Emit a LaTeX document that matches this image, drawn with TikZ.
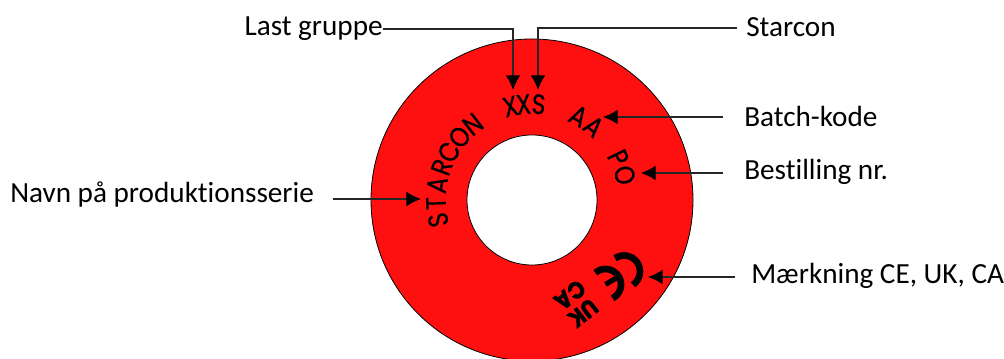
\documentclass[tikz,border=0pt]{standalone}
\usepackage{fontspec}
\setmainfont[RawFeature={-liga}]{Carlito}
\newfontfamily\ringfont[FakeStretch=0.85, FakeBold=0.5]{Poppins}
\newfontfamily\ringfedfont[FakeStretch=0.9, FakeBold=1]{Poppins}
\usetikzlibrary{arrows.meta, calc}
\definecolor{ringred}{HTML}{FF1010}
\tikzset{
  etiket/.style={inner sep=0pt, font=\fontsize{21.9}{26}\selectfont},
  ringtekst/.style={inner sep=0pt, font=\ringfont\fontsize{21}{21}\selectfont},
  ringfed/.style={inner sep=0pt, font=\ringfedfont\bfseries\fontsize{18}{18}\selectfont},
  pil/.style={-{Latex[length=11pt,width=11pt,black]}, line width=0.9pt, color=black!85},
  cemark/.style={line width=5pt}
}
\begin{document}
\begin{tikzpicture}[x=0.75pt, y=0.75pt]
  \useasboundingbox (0,0) rectangle (1004,359);

  % Ring
  \coordinate (M) at (532,159);
  \draw[fill=ringred, line width=0.6pt] (M) circle (161);
  \draw[fill=white, line width=0.6pt] (M) circle (65);

  % Tekst paa ringen
  \foreach \vinkel/\bogstav in {192/S, 182/T, 171/A, 160/R, 150/C, 139/O, 128/N, 103/X, 95/X, 86/S, 61/A, 50/A, 26/P, 15/O}
    \node[ringtekst, rotate=\vinkel-90] (b\vinkel) at ($(M)+(\vinkel:96)$) {\bogstav};

  % UK og CA
  \node[ringfed, rotate=218] (uk) at (583,46) {UK};
  \node[ringfed, rotate=218] (ca) at (570,64) {CA};

  % CE
  \draw[cemark] (624,87.5) ++(-56:16) arc (-56:124:16);
  \draw[cemark] (605.5,74.5) ++(-63:15.5) arc (-63:131:15.5);
  \draw[line width=3.8pt] (605.5,74.5) -- ++(31:15);

  % Etiketter
  \node[etiket, anchor=east] (lastgruppe) at (383,330) {Last gruppe};
  \node[etiket, anchor=west] (starcon) at (746,332) {Starcon};
  \node[etiket, anchor=west] (batch) at (744,243) {Batch-kode};
  \node[etiket, anchor=west] (bestilling) at (744,187) {Bestilling nr.};
  \node[etiket, anchor=west] (maerkning) at (751,83) {Mærkning CE, UK, CA};
  \node[etiket, anchor=west] (navn) at (10,164) {Navn på produktionsserie};

  % Pile
  \coordinate (xxspil) at (513,269);
  \coordinate (spil) at (538,269);
  \coordinate (starconstart) at (737,331);
  \coordinate (batchstart) at (723,242);
  \coordinate (batchpil) at (603,242);
  \coordinate (beststart) at (723,186);
  \coordinate (bestpil) at (641,186);
  \coordinate (navnstart) at (333,160);
  \coordinate (navnpil) at (421,160);
  \coordinate (maerkstart) at (735,82);
  \coordinate (maerkpil) at (648,82);

  \draw[pil] (lastgruppe.east) -| (xxspil);
  \draw[pil] (starconstart) -| (spil);
  \draw[pil] (batchstart) -- (batchpil);
  \draw[pil] (beststart) -- (bestpil);
  \draw[pil] (navnstart) -- (navnpil);
  \draw[pil] (maerkstart) -- (maerkpil);
\end{tikzpicture}
\end{document}
